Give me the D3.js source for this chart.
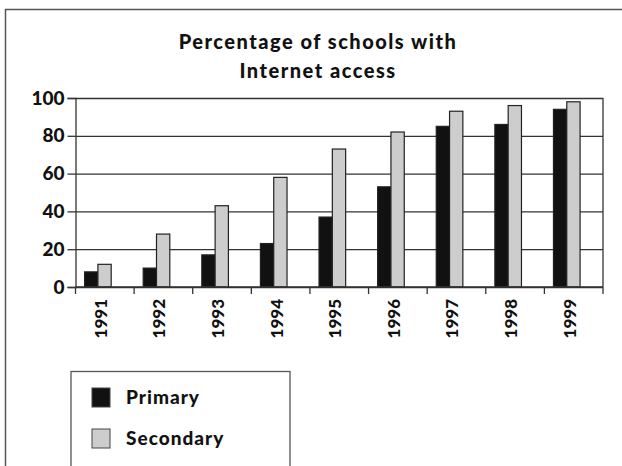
<!DOCTYPE html>
<html>
<head>
<meta charset="utf-8">
<script src="https://cdn.jsdelivr.net/npm/d3@7"></script>
<style>
  body { margin: 0; background: #fff; }
  svg text { font-family: "Lato", "Liberation Sans", sans-serif; font-weight: 900; fill: #111; }
</style>
</head>
<body>
<div id="chart"></div>
<script>
// Chart data
var years = ["1991", "1992", "1993", "1994", "1995", "1996", "1997", "1998", "1999"];
var primary = [8, 10, 17, 23, 37, 53, 85, 86, 94];
var secondary = [12, 28, 43, 58, 73, 82, 93, 96, 98];
var seriesNames = ["Primary", "Secondary"];
var yTicks = [0, 20, 40, 60, 80, 100];
var titleLines = ["Percentage of schools with", "Internet access"];

var svgWidth = 622;
var svgHeight = 466;

var margin = { top: 98, right: 19, bottom: 179, left: 75.5 };
var width = svgWidth - margin.left - margin.right;
var height = svgHeight - margin.top - margin.bottom;

var svg = d3.select("#chart")
    .append("svg")
    .attr("width", svgWidth)
    .attr("height", svgHeight);

// outer frame (left and top edges visible, the rest runs off the picture)
svg.append("rect")
    .attr("x", 5.5)
    .attr("y", 9.5)
    .attr("width", 640)
    .attr("height", 500)
    .attr("fill", "none")
    .attr("stroke", "#555")
    .attr("stroke-width", 1.5);

// title
svg.append("g").selectAll("text")
    .data(titleLines)
    .enter()
    .append("text")
    .attr("x", 318)
    .attr("y", (d, i) => 49 + i * 29)
    .attr("text-anchor", "middle")
    .style("font-size", "20px")
    .style("letter-spacing", "1.5px")
    .text(d => d);

var chartGroup = svg.append("g")
    .attr("transform", `translate(${margin.left}, ${margin.top})`);

// scales
var xScale = d3.scaleBand()
    .domain(years)
    .range([0, width]);

var yScale = d3.scaleLinear()
    .domain([0, 100])
    .range([height, 0]);

var bw = xScale.bandwidth();

// gridlines
chartGroup.append("g")
    .attr("class", "grid")
    .call(d3.axisLeft(yScale).tickValues(yTicks).tickSize(-width).tickFormat(""))
    .call(g => g.select(".domain").remove())
    .call(g => g.selectAll("line").attr("stroke", "#333").attr("stroke-width", 1.3));

// plot right border
chartGroup.append("line")
    .attr("x1", width).attr("x2", width)
    .attr("y1", 0).attr("y2", height)
    .attr("stroke", "#333")
    .attr("stroke-width", 1.3);

// bars
var series = [primary, secondary];
var fills = ["#111", "#cdcdcd"];
series.forEach(function(vals, s) {
    chartGroup.append("g").selectAll("rect")
        .data(vals)
        .enter()
        .append("rect")
        .attr("x", (d, i) => xScale(years[i]) + bw * 0.155 + s * bw * 0.227)
        .attr("y", d => yScale(d))
        .attr("width", bw * 0.227)
        .attr("height", d => height - yScale(d))
        .attr("fill", fills[s])
        .attr("stroke", "#222")
        .attr("stroke-width", 1.2);
});

// y axis
chartGroup.append("g")
    .call(d3.axisLeft(yScale).tickValues(yTicks).tickSize(8).tickPadding(3))
    .call(g => g.select(".domain").attr("stroke", "#333").attr("stroke-width", 1.3))
    .call(g => g.selectAll("line").attr("stroke", "#333").attr("stroke-width", 1.3))
    .call(g => g.selectAll("text").style("font-size", "19px").attr("fill", "#111"));

// x axis line and boundary ticks
chartGroup.append("line")
    .attr("x1", 0).attr("x2", width)
    .attr("y1", height).attr("y2", height)
    .attr("stroke", "#333")
    .attr("stroke-width", 1.3);

var bounds = years.map(y => xScale(y)).concat([width]);
chartGroup.append("g").selectAll("line")
    .data(bounds)
    .enter()
    .append("line")
    .attr("x1", d => d).attr("x2", d => d)
    .attr("y1", height).attr("y2", height + 7)
    .attr("stroke", "#333")
    .attr("stroke-width", 1.3);

// x labels, rotated
chartGroup.append("g").selectAll("text")
    .data(years)
    .enter()
    .append("text")
    .attr("transform", d => `translate(${xScale(d) + bw / 2 - 4}, ${height + 12}) rotate(-90)`)
    .attr("text-anchor", "end")
    .attr("dy", "0.35em")
    .style("font-size", "17px")
    .text(d => d);

// legend
var legend = svg.append("g");
legend.append("rect")
    .attr("x", 71)
    .attr("y", 371.5)
    .attr("width", 219)
    .attr("height", 120)
    .attr("fill", "#fff")
    .attr("stroke", "#555")
    .attr("stroke-width", 1.3);

legend.selectAll("g.item")
    .data(seriesNames)
    .enter()
    .append("g")
    .attr("class", "item")
    .attr("transform", (d, i) => `translate(92, ${388 + i * 41})`)
    .each(function(d, i) {
        var g = d3.select(this);
        g.append("rect")
            .attr("width", 18)
            .attr("height", 19)
            .attr("fill", fills[i])
            .attr("stroke", "#444")
            .attr("stroke-width", 1);
        g.append("text")
            .attr("x", 34)
            .attr("y", 16)
            .style("font-size", "19px")
            .style("letter-spacing", "1px")
            .text(d);
    });
</script>
</body>
</html>
